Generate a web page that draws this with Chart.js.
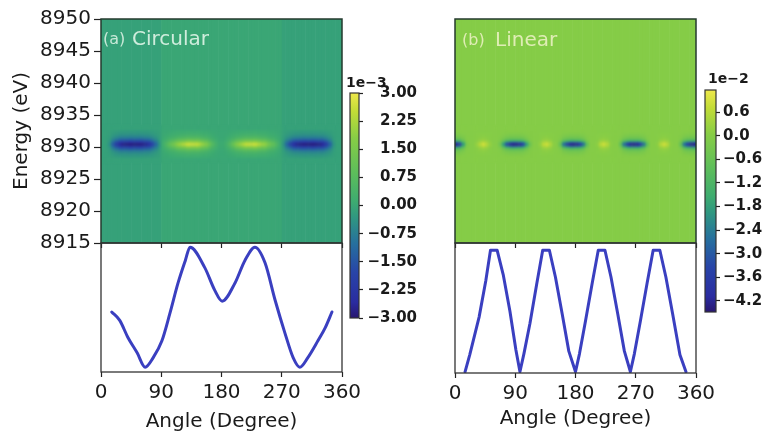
<!DOCTYPE html>
<html>
<head>
<meta charset="utf-8">
<script src="https://cdn.jsdelivr.net/npm/chart.js@4.4.1/dist/chart.umd.min.js"></script>
<style>
  html, body { margin: 0; padding: 0; background: #fff; }
  #fig { position: relative; width: 766px; height: 434px; }
  #fig canvas { position: absolute; left: 0; top: 0; }
</style>
</head>
<body>
<div id="fig"></div>
<script>
/* global Chart */

// ---- line plots (normalised intensity vs angle) ----
const angleA = [16, 28, 40, 54, 66, 78, 91, 103, 115, 126, 133, 155, 170, 181, 200, 215, 230, 245, 260, 275, 287, 297, 309, 324, 335, 345];
const signalA = [0.46, 0.39, 0.25, 0.12, 0.0, 0.08, 0.22, 0.45, 0.70, 0.89, 1.0, 0.83, 0.64, 0.55, 0.70, 0.89, 1.0, 0.87, 0.56, 0.28, 0.08, 0.0, 0.08, 0.22, 0.33, 0.46];

const angleB = [15, 22, 36, 46, 53, 63, 72, 82, 91, 97, 103, 112, 122, 131, 141, 150, 160, 170, 180, 186, 195, 205, 214, 224, 233, 243, 253, 262, 268, 277, 287, 296, 306, 315, 325, 336, 345];
const signalB = [0.0, 0.14, 0.45, 0.75, 1.0, 1.0, 0.80, 0.50, 0.18, 0.0, 0.15, 0.40, 0.72, 1.0, 1.0, 0.78, 0.48, 0.17, 0.0, 0.15, 0.42, 0.73, 1.0, 1.0, 0.78, 0.48, 0.17, 0.0, 0.15, 0.42, 0.73, 1.0, 1.0, 0.78, 0.48, 0.14, 0.0];

// ---- heatmaps: 5 degree columns, band of rows around the edge ----
const cellAngles = [2.5, 7.5, 12.5, 17.5, 22.5, 27.5, 32.5, 37.5, 42.5, 47.5, 52.5, 57.5, 62.5, 67.5, 72.5, 77.5, 82.5, 87.5,
  92.5, 97.5, 102.5, 107.5, 112.5, 117.5, 122.5, 127.5, 132.5, 137.5, 142.5, 147.5, 152.5, 157.5, 162.5, 167.5, 172.5, 177.5,
  182.5, 187.5, 192.5, 197.5, 202.5, 207.5, 212.5, 217.5, 222.5, 227.5, 232.5, 237.5, 242.5, 247.5, 252.5, 257.5, 262.5, 267.5,
  272.5, 277.5, 282.5, 287.5, 292.5, 297.5, 302.5, 307.5, 312.5, 317.5, 322.5, 327.5, 332.5, 337.5, 342.5, 347.5, 352.5, 357.5];
// peak amplitude per column (units of the colorbar offset)
const ampA = [0, 0, -0.3, -1.2, -2.0, -2.5, -2.75, -2.85, -2.9, -2.9, -2.9, -2.85, -2.8, -2.65, -2.35, -1.8, -1.1, -0.3,
  0.2, 0.6, 1.0, 1.4, 1.8, 2.1, 2.4, 2.6, 2.7, 2.7, 2.6, 2.4, 2.1, 1.7, 1.2, 0.7, 0.3, 0.1,
  0.1, 0.3, 0.7, 1.2, 1.7, 2.1, 2.4, 2.6, 2.7, 2.7, 2.6, 2.4, 2.1, 1.8, 1.4, 1.0, 0.6, 0.2,
  -0.3, -1.1, -1.8, -2.35, -2.65, -2.8, -2.85, -2.9, -2.9, -2.9, -2.85, -2.75, -2.5, -2.0, -1.2, -0.3, 0, 0];
const ampB = [-4.3, -3.8, -2.0, -0.3, 0, 0, 0.2, 0.6, 0.9, 0.6, 0.2, 0, 0, -0.5, -2.0, -3.5, -4.2, -4.4,
  -4.4, -4.2, -3.5, -2.0, -0.5, 0, 0, 0.2, 0.7, 0.9, 0.5, 0.1, 0, -0.8, -2.8, -3.8, -4.3, -4.4,
  -4.3, -3.8, -2.8, -0.8, 0, 0, 0.1, 0.6, 0.9, 0.6, 0.1, 0, 0, -0.8, -2.8, -3.8, -4.3, -4.4,
  -4.3, -3.8, -2.8, -0.8, 0, 0, 0.1, 0.6, 0.9, 0.6, 0.1, 0, 0, -0.8, -2.8, -3.8, -4.3, -4.4];
// quadrant background level (0-90, 90-180, 180-270, 270-360)
const baseA = [-0.12, 0, 0, -0.12];
const baseB = [0, 0, 0, 0];
// energy rows of the absorption edge and their weights
const bandEnergy = [8928.5, 8928.75, 8929, 8929.25, 8929.5, 8929.75, 8930, 8930.25, 8930.5, 8930.75, 8931, 8931.25, 8931.5, 8931.75, 8932, 8932.25, 8932.5];
const weightA = [0.05, 0.08, 0.12, 0.18, 0.28, 0.42, 0.62, 0.85, 1.0, 0.85, 0.62, 0.42, 0.28, 0.18, 0.12, 0.08, 0.05];
const weightB = [0, 0.02, 0.04, 0.07, 0.12, 0.2, 0.4, 0.75, 1.0, 0.75, 0.4, 0.2, 0.12, 0.07, 0.04, 0.02, 0];

// ---- ticks ----
const angleTicks = [0, 90, 180, 270, 360];
const energyTicks = [8915, 8920, 8925, 8930, 8935, 8940, 8945, 8950];
const cbRangeA = [-3, 3];
const cbTicksA = [-3, -2.25, -1.5, -0.75, 0, 0.75, 1.5, 2.25, 3];
const cbRangeB = [-4.48, 1.16];
const cbTicksB = [-4.2, -3.6, -3.0, -2.4, -1.8, -1.2, -0.6, 0.0, 0.6];

Chart.defaults.font.family = "'DejaVu Sans', sans-serif";
Chart.defaults.color = '#1a1a1a';
Chart.defaults.animation = false;
Chart.defaults.responsive = false;
Chart.defaults.plugins.legend.display = false;
Chart.defaults.plugins.tooltip.enabled = false;

const cmapStops = [
  [0.00, [40, 22, 112]],
  [0.07, [42, 44, 160]],
  [0.20, [40, 68, 168]],
  [0.33, [38, 112, 158]],
  [0.45, [48, 152, 128]],
  [0.52, [62, 172, 112]],
  [0.65, [94, 190, 90]],
  [0.80, [135, 205, 70]],
  [0.92, [195, 220, 55]],
  [1.00, [238, 232, 75]],
];
function cmap(t) {
  t = Math.max(0, Math.min(1, t));
  for (let i = 1; i < cmapStops.length; i++) {
    const [p0, c0] = cmapStops[i - 1];
    const [p1, c1] = cmapStops[i];
    if (t <= p1) {
      const f = (t - p0) / (p1 - p0);
      return 'rgb(' + c0.map((c, k) => Math.round(c + (c1[k] - c) * f)).join(',') + ')';
    }
  }
  return 'rgb(238,232,75)';
}

function overlay() {
  const c = document.createElement('canvas');
  c.width = 766;
  c.height = 434;
  document.getElementById('fig').appendChild(c);
  return c;
}

function framePlugin(color, width) {
  return {
    id: 'frame',
    afterDraw(chart) {
      const {ctx, chartArea: a} = chart;
      ctx.save();
      ctx.strokeStyle = color;
      ctx.lineWidth = width;
      ctx.strokeRect(a.left, a.top, a.width, a.height);
      ctx.restore();
    }
  };
}

function textPlugin(items) {
  return {
    id: 'labels',
    afterDraw(chart) {
      const {ctx, chartArea: a} = chart;
      ctx.save();
      items.forEach(t => {
        ctx.font = t.font;
        ctx.fillStyle = t.color;
        ctx.textAlign = 'left';
        ctx.textBaseline = 'alphabetic';
        ctx.fillText(t.text, a.left + t.dx, a.top + t.dy);
      });
      ctx.restore();
    }
  };
}

function heatmapPlugin(amp, weight, base, range) {
  const color = v => cmap((v - range[0]) / (range[1] - range[0]));
  return {
    id: 'heatmap',
    beforeDatasetsDraw(chart) {
      const {ctx, chartArea: a, scales: {x, y}} = chart;
      ctx.save();
      ctx.beginPath();
      ctx.rect(a.left, a.top, a.width, a.height);
      ctx.clip();
      cellAngles.forEach((c, i) => {
        const x0 = x.getPixelForValue(c - 2.5), x1 = x.getPixelForValue(c + 2.5);
        const b = base[Math.floor(c / 90)];
        ctx.fillStyle = color(b);
        ctx.fillRect(x0, a.top, x1 - x0 + 0.6, a.height);
        bandEnergy.forEach((e, j) => {
          const y0 = y.getPixelForValue(e + 0.125), y1 = y.getPixelForValue(e - 0.125);
          ctx.fillStyle = color(b + amp[i] * weight[j]);
          ctx.fillRect(x0, y0, x1 - x0 + 0.6, y1 - y0 + 0.6);
        });
      });
      // soften the cells like the interpolated original
      const top = y.getPixelForValue(bandEnergy[bandEnergy.length - 1]) - 6;
      const bot = y.getPixelForValue(bandEnergy[0]) + 6;
      ctx.filter = 'blur(1.2px)';
      ctx.drawImage(chart.canvas, a.left, top, a.width, bot - top, a.left, top, a.width, bot - top);
      ctx.restore();
    }
  };
}

function cbarGradient(chart) {
  const a = chart.chartArea;
  if (!a) return null;
  const g = chart.ctx.createLinearGradient(0, a.bottom, 0, a.top);
  cmapStops.forEach(([p, c]) => g.addColorStop(p, 'rgb(' + c.join(',') + ')'));
  return g;
}

const fmt = (v, d) => (v < -1e-9 ? '\u2212' : '') + Math.abs(v).toFixed(d);

function heatChart(left, right, showY, amp, weight, base, range, labels) {
  return new Chart(overlay(), {
    type: 'scatter',
    data: {datasets: []},
    options: {
      layout: {padding: {left: showY ? 0 : left, top: 19, right: right, bottom: 186}},
      scales: {
        x: {
          type: 'linear', min: 0, max: 360,
          afterBuildTicks: s => { s.ticks = angleTicks.map(v => ({value: v})); },
          ticks: {display: false},
          grid: {drawOnChartArea: false, tickLength: 5, color: '#222', tickWidth: 1.2},
          border: {display: false},
          afterFit: s => { s.height = 5; }
        },
        y: {
          type: 'linear', min: 8915, max: 8950, display: showY,
          afterBuildTicks: s => { s.ticks = energyTicks.map(v => ({value: v})); },
          ticks: {font: {size: 20}, padding: 3, callback: v => String(v)},
          grid: {drawOnChartArea: false, tickLength: 7, color: '#222', tickWidth: 1.2},
          border: {display: false},
          title: {display: true, text: 'Energy (eV)', font: {size: 20}, padding: {top: 10, bottom: 0}},
          afterFit: s => { s.width = showY ? left : 0; }
        }
      }
    },
    plugins: [heatmapPlugin(amp, weight, base, range), framePlugin('#243a2e', 1.5), textPlugin(labels)]
  });
}

function lineChart(left, right, bottom, angles, values, smooth, yRange, titlePad) {
  return new Chart(overlay(), {
    type: 'line',
    data: {
      datasets: [{
        data: angles.map((a, i) => ({x: a, y: values[i]})),
        borderColor: '#3a3fc0',
        borderWidth: 3,
        pointRadius: 0,
        tension: smooth ? 0.4 : 0,
        cubicInterpolationMode: smooth ? 'monotone' : 'default',
        borderJoinStyle: 'round',
        borderCapStyle: 'round'
      }]
    },
    options: {
      layout: {padding: {left: left, top: 243, right: right, bottom: 0}},
      scales: {
        x: {
          type: 'linear', min: 0, max: 360,
          afterBuildTicks: s => { s.ticks = angleTicks.map(v => ({value: v})); },
          ticks: {font: {size: 20}, padding: 4, maxRotation: 0},
          grid: {drawOnChartArea: false, tickLength: 5, color: '#222', tickWidth: 1.2},
          border: {display: false},
          title: {display: true, text: 'Angle (Degree)', font: {size: 20}, padding: {top: 0, bottom: titlePad}},
          afterFit: s => { s.height = 434 - bottom; }
        },
        y: {display: false, min: yRange[0], max: yRange[1]}
      }
    },
    plugins: [framePlugin('#333', 1.3)]
  });
}

// labelRight: x where the tick labels end (far) or start (near)
function colorbar(left, top, bottom, right, labelRight, range, ticks, digits, cross, labels) {
  return new Chart(overlay(), {
    type: 'bar',
    data: {
      labels: [''],
      datasets: [{
        data: [range],
        backgroundColor: ctx => cbarGradient(ctx.chart),
        barPercentage: 1,
        categoryPercentage: 1,
        borderWidth: 0
      }]
    },
    options: {
      layout: {padding: {left: left, top: top, right: 766 - labelRight, bottom: 434 - bottom}},
      scales: {
        x: {display: false},
        y: {
          position: 'right', min: range[0], max: range[1],
          afterBuildTicks: s => { s.ticks = ticks.map(v => ({value: v})); },
          ticks: {font: {size: 15, weight: 'bold'}, padding: 3, crossAlign: cross, callback: v => fmt(v, digits)},
          grid: {drawOnChartArea: false, tickLength: 4, color: '#222', tickWidth: 1.2},
          border: {display: false},
          afterFit: s => { s.width = labelRight - right; }
        }
      }
    },
    plugins: [framePlugin('#333', 1.2), textPlugin(labels)]
  });
}

// panel (a) circular
heatChart(101, 424, true, ampA, weightA, baseA, cbRangeA, [
  {text: '(a)', font: '16px DejaVu Sans', color: 'rgba(215,240,225,0.9)', dx: 2, dy: 25},
  {text: 'Circular', font: '20px DejaVu Sans', color: 'rgba(215,240,225,0.95)', dx: 31, dy: 26}
]);
lineChart(101, 424, 372, angleA, signalA, true, [-0.04, 1.035], 0);
colorbar(350, 93, 318, 359, 417, cbRangeA, cbTicksA, 2, 'far', [
  {text: '1e\u22123', font: 'bold 14px DejaVu Sans', color: '#1a1a1a', dx: -4, dy: -6}
]);

// panel (b) linear
heatChart(455, 70, false, ampB, weightB, baseB, cbRangeB, [
  {text: '(b)', font: '16px DejaVu Sans', color: 'rgba(238,242,200,0.85)', dx: 7, dy: 26},
  {text: 'Linear', font: '20px DejaVu Sans', color: 'rgba(238,242,200,0.85)', dx: 40, dy: 27}
]);
lineChart(455, 70, 373, angleB, signalB, false, [-0.01, 1.06], 3);
colorbar(705, 90, 312, 716, 766, cbRangeB, cbTicksB, 1, 'near', [
  {text: '1e\u22122', font: 'bold 14px DejaVu Sans', color: '#1a1a1a', dx: 3, dy: -7}
]);
</script>
</body>
</html>
